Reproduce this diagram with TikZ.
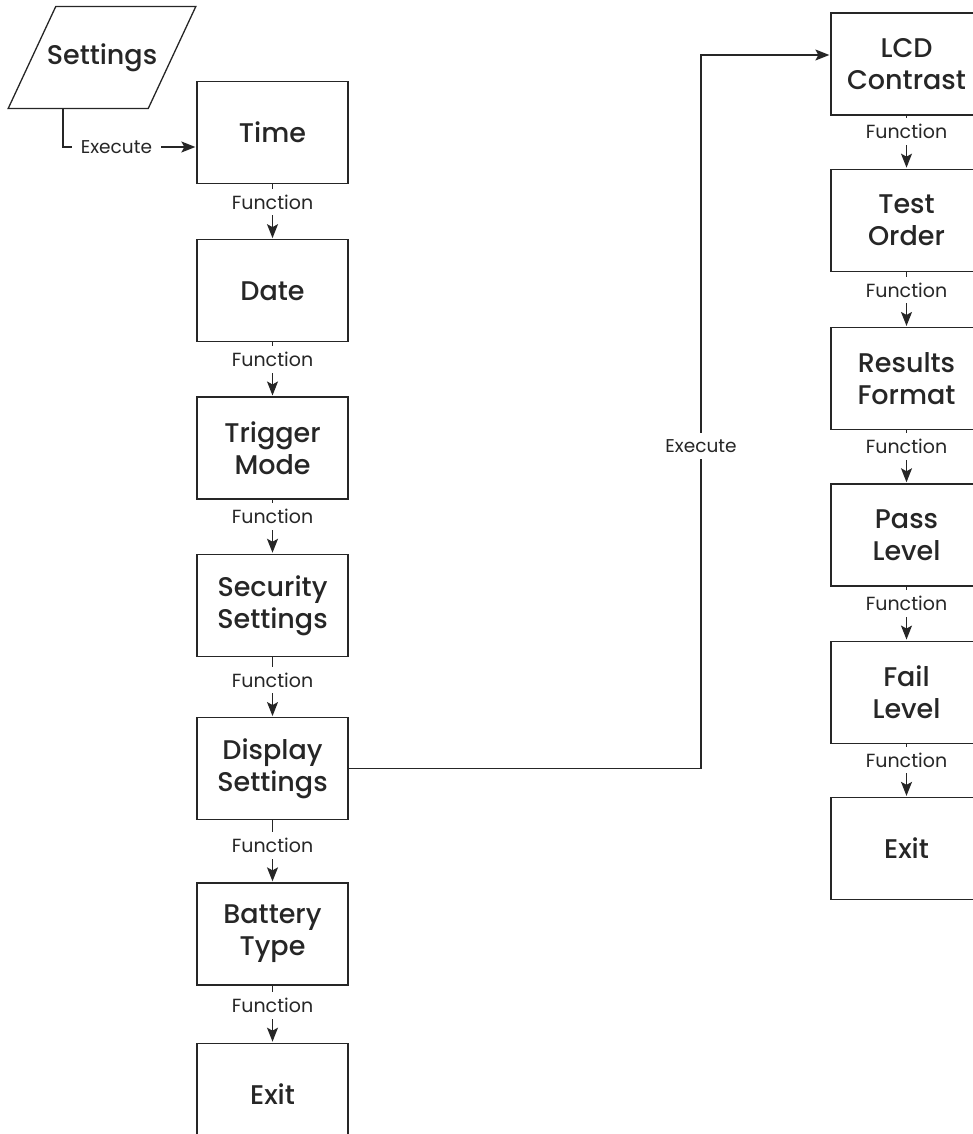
\documentclass[tikz,border=0pt]{standalone}
\usepackage{fontspec}
\setmainfont{Poppins}[BoldFont={Poppins Medium}]
\usetikzlibrary{shapes,arrows.meta,positioning}

\begin{document}
\begin{tikzpicture}[->,>={Stealth[length=14pt,width=11pt,inset=3pt]},shorten >=1pt,
                    x=1pt,y=-1pt,node distance=54pt,line width=1.3pt,color=black!85]
  \tikzstyle{box}=[draw, rectangle, minimum width=151pt, minimum height=102pt,
                   align=center, font=\fontsize{27}{32}\selectfont\bfseries]
  \tikzstyle{fn}=[fill=white, pos=1, yshift=37pt, inner xsep=2pt, inner ysep=6pt,
                  font=\fontsize{19}{22}\selectfont]
  \tikzstyle{ex}=[fill=white, inner xsep=9pt, inner ysep=6pt,
                  font=\fontsize{18.5}{22}\selectfont]

 \useasboundingbox (0,0) rectangle (973,1134);
 \clip (0,0) rectangle (973,1134);

 \node[draw, trapezium, trapezium left angle=65, trapezium right angle=115,
       inner xsep=-9pt, inner ysep=37pt,
       font=\fontsize{27}{32}\selectfont\bfseries](settings) at (102,57.5) {Settings};

 % main menu
 \node[box](time) at (272.5,132.5) {Time};
 \node[box, below=55pt of time](date) {Date};
 \node[box, below=of date](trigger) {Trigger\\Mode};
 \node[box, below=of trigger](security) {Security\\Settings};
 \node[box, below=60pt of security](display) {Display\\Settings};
 \node[box, below=62pt of display](battery) {Battery\\Type};
 \node[box, below=57pt of battery](exit_main) {Exit};

 % display submenu
 \node[box](lcd) at (906.5,64) {LCD\\Contrast};
 \node[box, below=53pt of lcd](order) {Test\\Order};
 \node[box, below=55pt of order](format) {Results\\Format};
 \node[box, below=53pt of format](pass) {Pass\\Level};
 \node[box, below=of pass](fail) {Fail\\Level};
 \node[box, below=53pt of fail](exit_sub) {Exit};

 \path (time) edge node[fn] {Function} (date)
       (date) edge node[fn] {Function} (trigger)
       (trigger) edge node[fn] {Function} (security)
       (security) edge node[fn] {Function} (display)
       (display) edge node[fn] {Function} (battery)
       (battery) edge node[fn] {Function} (exit_main)
       (lcd) edge node[fn] {Function} (order)
       (order) edge node[fn] {Function} (format)
       (format) edge node[fn] {Function} (pass)
       (pass) edge node[fn] {Function} (fail)
       (fail) edge node[fn] {Function} (exit_sub)
;

 \draw ([xshift=56pt]settings.bottom left corner) |- node[ex, pos=0.7] {Execute}
       ([yshift=-14.5pt]time.west);

 \coordinate (turn) at (701,446);
 \draw (display.east) -| (turn) node[ex] {Execute} |- ([yshift=9pt]lcd.west);

\end{tikzpicture}
\end{document}
